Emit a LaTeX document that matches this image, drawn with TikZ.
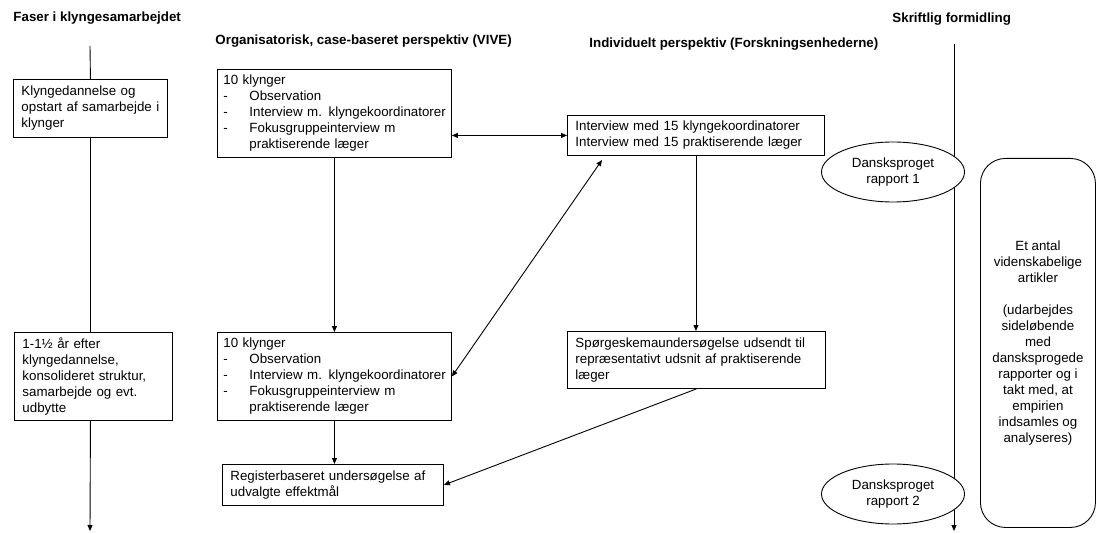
\documentclass[tikz,border=0pt]{standalone}
\usepackage{fontspec}
\setmainfont{Liberation Sans}
\usetikzlibrary{arrows.meta,shapes.geometric}
\newcommand\fsz{\fontsize{13.33}{16}\selectfont}
\newcommand\itm[1]{\mbox{\makebox[26pt][l]{-}#1}}
\begin{document}
\begin{tikzpicture}[x=1pt,y=-1pt, line width=0.9pt,
  box/.style={draw, anchor=north west, align=left, inner xsep=8pt, inner ysep=0pt, font=\fsz},
  vbox/.style={box, inner xsep=6pt, text width=222pt, minimum height=88pt},
  ttl/.style={anchor=base west, inner sep=0pt, font=\fsz\bfseries},
  arr/.style={-{Triangle[length=6pt,width=5pt]}},
  darr/.style={{Triangle[length=6pt,width=5pt]}-{Triangle[length=6pt,width=5pt]}},
  ell/.style={draw, fill=white, ellipse, inner sep=0pt, minimum width=143pt, minimum height=60pt, align=center, font=\fsz}]
\useasboundingbox (0,0) rectangle (1099,534);

% titles
\node[ttl] (t1) at (13,22) {Faser i klyngesamarbejdet};
\node[ttl] (t2) at (215,45) {Organisatorisk, case-baseret perspektiv (VIVE)};
\node[ttl] (t3) at (589,48) {Individuelt perspektiv (Forskningsenhederne)};
\node[ttl] (t4) at (892,23) {Skriftlig formidling};

% left column
\node[box, text width=138pt, minimum height=58pt] (b1) at (13,79)
  {Klyngedannelse og\\opstart af samarbejde i\\klynger};
\node[box, text width=142pt, minimum height=88pt] (b2) at (14,332)
  {1-1½ år efter\\klyngedannelse,\\konsolideret struktur,\\samarbejde og evt.\\udbytte};

% VIVE column
\node[vbox] (v1) at (217,69)
  {10 klynger\\\itm{Observation}\\\itm{Interview m. klyngekoordinatorer}\\\itm{Fokusgruppeinterview m}\\\hspace*{26pt}praktiserende læger};
\node[vbox] (v2) at (217,332)
  {10 klynger\\\itm{Observation}\\\itm{Interview m. klyngekoordinatorer}\\\itm{Fokusgruppeinterview m}\\\hspace*{26pt}praktiserende læger};
\node[box, text width=205pt, minimum height=41pt] (reg) at (222,464)
  {Registerbaseret undersøgelse af\\udvalgte effektmål};

% individual column
\node[box, text width=241pt, minimum height=40pt] (iv) at (567,115)
  {Interview med 15 klyngekoordinatorer\\Interview med 15 praktiserende læger};
\node[box, text width=242pt, minimum height=57pt] (sp) at (567,331)
  {Spørgeskemaundersøgelse udsendt til\\repræsentativt udsnit af praktiserende\\læger};

% left timeline
\coordinate (lt) at (90,46);
\coordinate (lb) at (90,531);
\draw (lt) -- (b1.north);
\draw (b1.south) -- (b1.south |- b2.north);
\draw[arr] (b1.south |- b2.south) -- (lb);

% right timeline
\coordinate (rt) at (954,44);
\coordinate (rend) at (954,531);
\draw[arr] (rt) -- (rend);

% ellipses and rounded box
\node[ell] (e1) at (893,172) {Dansksproget\\rapport 1};
\node[ell] (e2) at (893,494) {Dansksproget\\rapport 2};
\node[draw, rounded corners=25pt, anchor=north west, minimum width=115pt, minimum height=369pt,
  inner sep=0pt, align=center, font=\fsz] (rb) at (980,158)
  {Et antal\\videnskabelige\\artikler\\[16pt](udarbejdes\\sideløbende\\med\\dansksprogede\\rapporter og i\\takt med, at\\empirien\\indsamles og\\analyseres)};

% connectors
\draw[darr] (v1.east |- iv.west) -- (iv.west);
\draw[arr] (v1.south) -- (v2.north);
\draw[arr] (v2.south) -- (v2.south |- reg.north);
\draw[arr] (iv.south) -- (iv.south |- sp.north);
\coordinate (dt) at (602,160);
\draw[darr] (v2.east) -- (dt);
\draw[arr] (sp.south) -- (reg.east);
\end{tikzpicture}
\end{document}
